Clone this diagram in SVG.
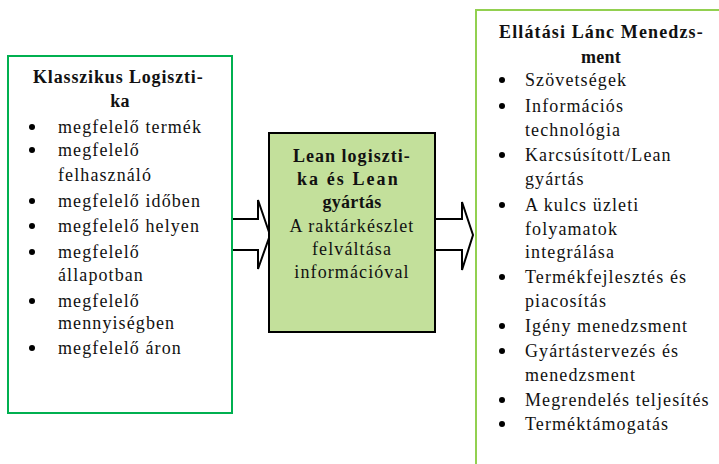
<svg xmlns="http://www.w3.org/2000/svg" width="719" height="464" viewBox="0 0 719 464">
<style>
text{font-family:"Liberation Serif","Times New Roman",serif;font-size:18px;fill:#111}
.b{font-weight:bold;letter-spacing:0.3px}
.t{letter-spacing:1.1px}
.c{text-anchor:middle}
.dot{fill:#000}
.arrow{fill:#fff;stroke:#000;stroke-width:2;stroke-linejoin:miter}
</style>
<rect width="719" height="464" fill="#fff"/>
<g id="connectors">
<path class="arrow" d="M232,219 L258,219 L258,200 L270,235 L258,269 L258,250 L232,250"/>
<path class="arrow" d="M435,219 L462,219 L462,202 L473,235 L462,270 L462,250 L435,250"/>
</g>
<g id="klasszikus">
<rect x="8" y="56" width="224" height="357" fill="none" stroke="#00b050" stroke-width="2"/>
<text class="b" x="33" y="83" textLength="170" lengthAdjust="spacing">Klasszikus Logiszti-</text>
<text class="b c" x="120" y="107">ka</text>
<g class="dot"><circle cx="32" cy="127" r="3"/><circle cx="32" cy="150" r="3"/><circle cx="32" cy="201" r="3"/><circle cx="32" cy="226" r="3"/><circle cx="32" cy="252" r="3"/><circle cx="32" cy="301" r="3"/><circle cx="32" cy="348" r="3"/></g>
<text class="t" x="58" y="133">megfelelő termék</text>
<text class="t" x="58" y="156">megfelelő</text>
<text class="t" x="58" y="181">felhasználó</text>
<text class="t" x="58" y="207">megfelelő időben</text>
<text class="t" x="58" y="232">megfelelő helyen</text>
<text class="t" x="58" y="258">megfelelő</text>
<text class="t" x="58" y="281">állapotban</text>
<text class="t" x="58" y="307">megfelelő</text>
<text class="t" x="58" y="329">mennyiségben</text>
<text class="t" x="58" y="354">megfelelő áron</text>
</g>
<g id="lean">
<rect x="269" y="133" width="166" height="199" fill="#c3e09b" stroke="#000" stroke-width="2"/>
<text class="b" x="293" y="162" textLength="117" lengthAdjust="spacing">Lean logiszti-</text>
<text class="b" x="297" y="185" textLength="101" lengthAdjust="spacing">ka és Lean</text>
<text class="b c" x="352" y="208">gyártás</text>
<text class="t c" x="352" y="232">A raktárkészlet</text>
<text class="t c" x="352" y="255">felváltása</text>
<text class="t c" x="352" y="278">információval</text>
</g>
<g id="ellatasi">
<rect x="476" y="10" width="250" height="460" fill="none" stroke="#92d050" stroke-width="2"/>
<text class="b" x="499" y="38" textLength="204" lengthAdjust="spacing">Ellátási Lánc Menedzs-</text>
<text class="b c" x="601" y="63">ment</text>
<g class="dot"><circle cx="502" cy="80" r="3"/><circle cx="502" cy="106" r="3"/><circle cx="502" cy="155" r="3"/><circle cx="502" cy="205" r="3"/><circle cx="502" cy="277" r="3"/><circle cx="502" cy="326" r="3"/><circle cx="502" cy="351" r="3"/><circle cx="502" cy="400" r="3"/><circle cx="502" cy="424" r="3"/></g>
<text class="t" x="525" y="86">Szövetségek</text>
<text class="t" x="525" y="112">Információs</text>
<text class="t" x="525" y="136">technológia</text>
<text class="t" x="525" y="161">Karcsúsított/Lean</text>
<text class="t" x="525" y="185">gyártás</text>
<text class="t" x="525" y="211">A kulcs üzleti</text>
<text class="t" x="525" y="235">folyamatok</text>
<text class="t" x="525" y="258">integrálása</text>
<text class="t" x="525" y="283">Termékfejlesztés és</text>
<text class="t" x="525" y="307">piacosítás</text>
<text class="t" x="525" y="332">Igény menedzsment</text>
<text class="t" x="525" y="357">Gyártástervezés és</text>
<text class="t" x="525" y="381">menedzsment</text>
<text class="t" x="525" y="406">Megrendelés teljesítés</text>
<text class="t" x="525" y="430">Terméktámogatás</text>
</g>
</svg>
